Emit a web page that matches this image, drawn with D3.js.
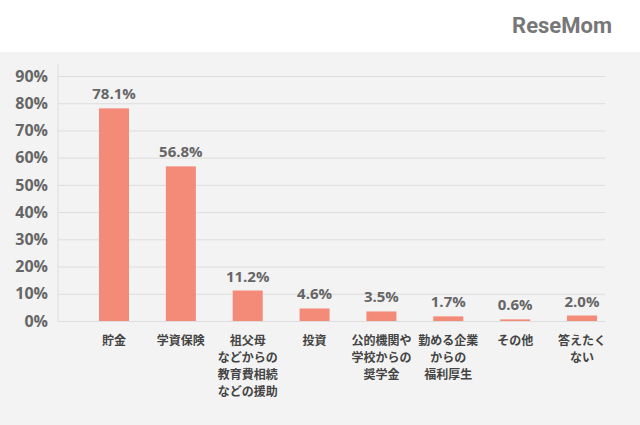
<!DOCTYPE html>
<html><head><meta charset="utf-8">
<script src="https://cdn.jsdelivr.net/npm/d3@7"></script>
<style>body{margin:0;background:#fff}svg{display:block;font-family:"Noto Sans CJK JP","Noto Sans",sans-serif}</style>
</head><body><svg id="c" width="640" height="425"></svg>
<script>
const categories = [["貯金"],["学資保険"],["祖父母","などからの","教育費相続","などの援助"],["投資"],["公的機関や","学校からの","奨学金"],["勤める企業","からの","福利厚生"],["その他"],["答えたく","ない"]];
const values = [78.1,56.8,11.2,4.6,3.5,1.7,0.6,2.0];
const ticks = [0,10,20,30,40,50,60,70,80,90];

const svg = d3.select("#c");
svg.append("rect").attr("x",0).attr("y",52).attr("width",640).attr("height",373).attr("fill","#f3f3f3");
svg.append("text").attr("x",612).attr("y",33).attr("text-anchor","end").attr("font-size",22).attr("font-weight","bold").attr("fill","#777").attr("font-family","Roboto, sans-serif").text("ReseMom");

const y = d3.scaleLinear().domain([0,90]).range([321,76]);
const x = d3.scalePoint().domain(d3.range(values.length)).range([114,582]);
const bw = 30;

svg.append("line").attr("x1",58).attr("x2",58).attr("y1",64).attr("y2",321).attr("stroke","#ddd");
const ga = svg.append("g").attr("transform","translate(58,0)")
  .call(d3.axisLeft(y).tickValues(ticks).tickFormat(d=>d+"%").tickSize(-547).tickPadding(10));
ga.select(".domain").remove();
ga.selectAll(".tick line").attr("stroke","#ddd");
ga.selectAll(".tick text").attr("font-size",16).attr("font-weight","bold").attr("fill","#666").attr("font-family","'Open Sans',sans-serif");

svg.selectAll(".bar").data(values).join("rect")
  .attr("x",(d,i)=>x(i)-bw/2).attr("width",bw)
  .attr("y",d=>y(d)).attr("height",d=>y(0)-y(d)).attr("fill","#f48a78");
svg.selectAll(".vl").data(values).join("text")
  .attr("x",(d,i)=>x(i)).attr("y",d=>y(d)-9)
  .attr("text-anchor","middle").attr("font-size",15).attr("font-weight","bold").attr("fill","#666")
  .attr("font-family","'Open Sans',sans-serif").text(d=>d.toFixed(1)+"%");
categories.forEach((lines,i)=>{
  const t = svg.append("text").attr("text-anchor","middle").attr("font-size",12).attr("font-weight","bold").attr("fill","#444");
  lines.forEach((l,j)=>t.append("tspan").attr("x",x(i)).attr("y",345+j*17).text(l));
});
</script></body></html>
